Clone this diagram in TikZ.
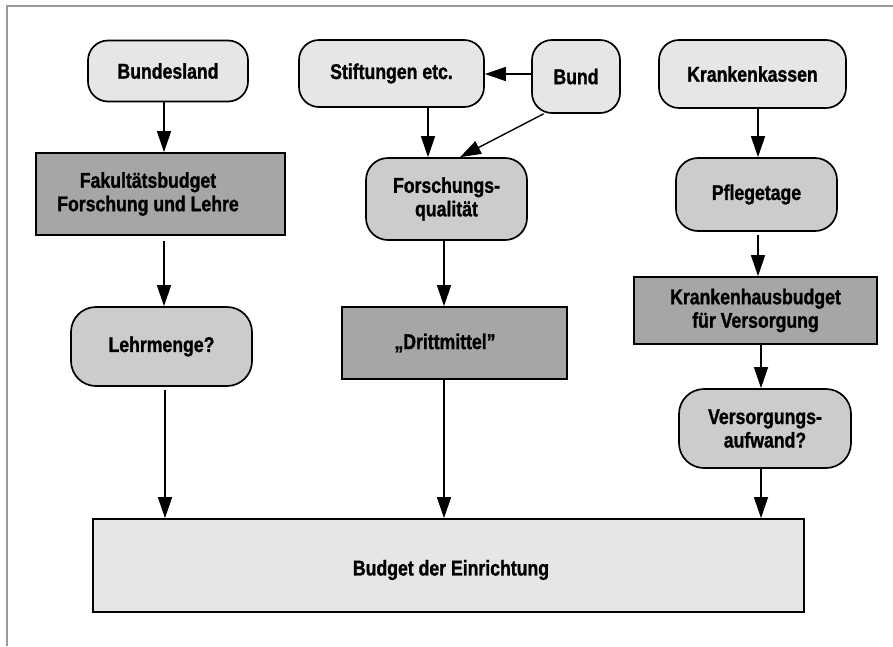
\documentclass[tikz,border=0pt]{standalone}
\usepackage{fontspec}
\setmainfont[FakeStretch=0.825, BoldFeatures={FakeBold=1.2}]{Liberation Sans}
\usetikzlibrary{arrows.meta}
\definecolor{lightg}{HTML}{E6E6E6}
\definecolor{midg}{HTML}{CCCCCC}
\definecolor{darkg}{HTML}{A6A6A6}
\definecolor{frameg}{HTML}{9A9A9A}
\begin{document}
\begin{tikzpicture}[x=1pt,y=-1pt,
  base/.style={draw=black, line width=1.7pt, inner sep=0pt, align=center,
    font=\fontsize{21.4}{23.5}\selectfont\bfseries},
  lightround/.style={base, rounded corners=20pt, fill=lightg},
  midround/.style={base, rounded corners=22pt, fill=midg},
  darkbox/.style={base, fill=darkg},
  lightbox/.style={base, fill=lightg},
  txt/.style={inner sep=0pt, align=center, font=\fontsize{21.4}{23.5}\selectfont\bfseries},
  arr/.style={line width=1.4pt, -{Triangle[length=21pt,width=14pt]}},
  framel/.style={draw=frameg, line width=1.2pt}]
\useasboundingbox (0,0) rectangle (893,646);
\draw[framel] (7,646) -- (7,6) -- (893,6);

% nodes
\node[lightround, minimum width=160pt, minimum height=61pt] (bl) at (168,71) {Bundesland};
\node[lightround, minimum width=185pt, minimum height=67pt] (st) at (391.5,73.5) {Stiftungen etc.};
\node[lightround, minimum width=88pt, minimum height=73pt] (bd) at (576,76.5) {Bund};
\node[lightround, minimum width=187pt, minimum height=68pt] (kk) at (752.5,74) {Krankenkassen};

\node[darkbox, minimum width=249pt, minimum height=82pt] (fak) at (160.5,194) {};
\node[txt] (fakt) at (148,194) {Fakultätsbudget\\Forschung und Lehre};
\node[midround, minimum width=161pt, minimum height=82pt] (fq) at (446.5,199) {Forschungs-\\qualität};
\node[midround, minimum width=161pt, minimum height=73pt] (pf) at (756.5,194.5) {Pflegetage};

\node[darkbox, minimum width=243pt, minimum height=67pt] (kh) at (755.5,310.5) {Krankenhausbudget\\für Versorgung};
\node[midround, minimum width=181pt, minimum height=79pt, rounded corners=25pt] (lm) at (161.5,346.5) {Lehrmenge?};
\node[darkbox, minimum width=225pt, minimum height=72pt] (dm) at (454.5,343) {};
\node[txt] (dmt) at (445,343) {„Drittmittel”};
\node[midround, minimum width=172pt, minimum height=79pt, rounded corners=25pt] (vs) at (765,428.5) {Versorgungs-\\aufwand?};

\node[lightbox, minimum width=711pt, minimum height=93pt] (bu) at (448.5,565.5) {};
\node[txt] (but) at (451,570) {Budget der Einrichtung};

% connector columns / rows
\coordinate (xa) at (164,0);
\coordinate (xb) at (165,0);
\coordinate (xc) at (428,0);
\coordinate (xd) at (444,0);
\coordinate (xe) at (758,0);
\coordinate (xf) at (761,0);
\coordinate (xg) at (460,0);
\coordinate (ya) at (0,74);

% connectors
\draw[arr] (bl.south -| xa) -- (fak.north -| xa);
\draw[arr, shorten <=5pt] (fak.south -| xa) -- (lm.north -| xa);
\draw[arr, shorten <=3pt] (lm.south -| xb) -- (bu.north -| xb);

\draw[arr] (st.south -| xc) -- (fq.north -| xc);
\draw[arr] (bd.west |- ya) -- (st.east |- ya);
\draw[arr] (bd.229) -- (fq.north -| xg);
\draw[arr] (fq.south -| xd) -- (dm.north -| xd);
\draw[arr] (dm.south -| xd) -- (bu.north -| xd);

\draw[arr, shorten <=-2pt] (kk.south -| xe) -- (pf.north -| xe);
\draw[arr, shorten <=3pt] (pf.south -| xe) -- (kh.north -| xe);
\draw[arr] (kh.south -| xf) -- (vs.north -| xf);
\draw[arr] (vs.south -| xf) -- (bu.north -| xf);
\end{tikzpicture}
\end{document}
